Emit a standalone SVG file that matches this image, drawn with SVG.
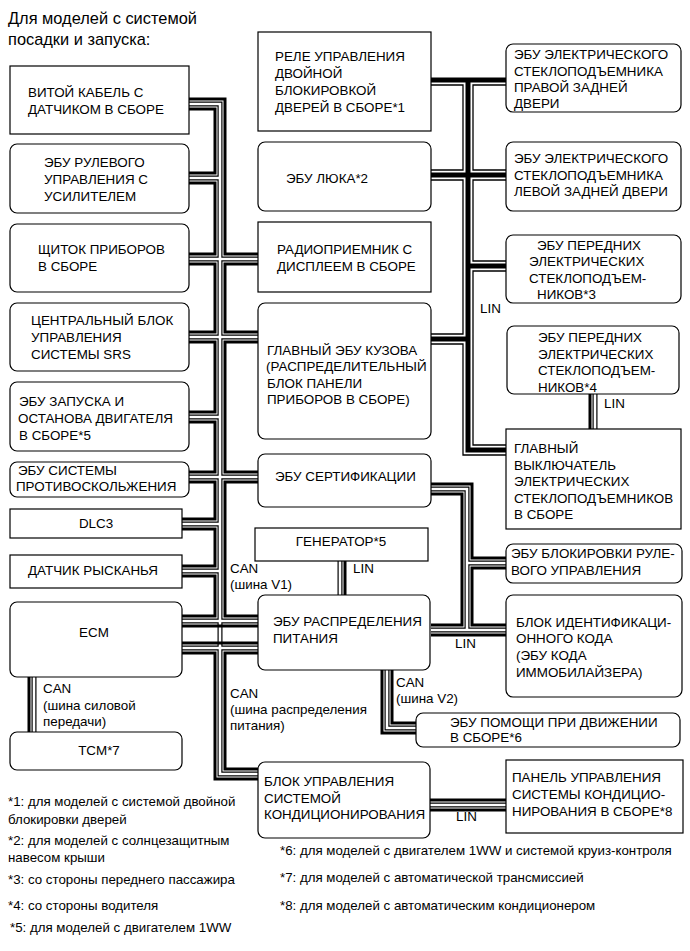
<svg xmlns="http://www.w3.org/2000/svg" xmlns:xlink="http://www.w3.org/1999/xlink" width="690" height="951" viewBox="0 0 690 951">
<style>
text{font-family:"Liberation Sans",Arial,sans-serif;font-size:13.4px;fill:#000}
.t{font-size:16.4px}
.fn{font-size:13.3px}
.bx{fill:#fff;stroke:#000;stroke-width:1.2}
.k{fill:none;stroke:#000;stroke-width:3}
.band{fill:none;stroke:#000;stroke-width:5}
.thin{fill:none;stroke:#000;stroke-width:1.3}
.ho{fill:none;stroke:#000;stroke-width:5}
.hi{fill:none;stroke:#fff;stroke-width:2.6}
</style>
<defs>
<path id="hol" d="M189,104 H220 V774 H258 M189,178 H220 M189,259 H258 M189,337 H258 M189,417 H220 M189,477 H258 M182,524 H220 M182,571 H220 M182,621 H258 M182,648 H258 M34,677 V732 M387,670 V728 H416 M431,489 H467 V630 M431,630 H506 M467,563 H506 M340,561 V595 M595,394 V429 M430,805 H506"/>
</defs>
<rect width="690" height="951" fill="#fff"/>
<text class="t" x="8" y="24">Для моделей с системой</text>
<text class="t" x="8" y="45">посадки и запуска:</text>

<g id="connectors">
<use xlink:href="#hol" class="ho"/>
<use xlink:href="#hol" class="hi"/>
<path class="k" d="M189,99 H225 V254 H258 M189,109 H215 V173 H189 M189,183 H215 V254 H189 M189,264 H215 V332 H189 M258,264 H225 V332 H258 M189,342 H215 V412 H189 M258,342 H225 V472 H258 M189,422 H215 V472 H189 M189,482 H215 V519 H182 M258,482 H225 V616 H258 M182,529 H215 V566 H182 M182,576 H215 V616 H182 M182,626 H258 M182,643 H258 M258,653 H225 V769 H258 M182,653 H215 V779 H258"/>
<path class="k" d="M29,677 V732 M382,670 V733 H416 M392,670 V723 H416"/>
<path class="k" d="M431,484 H472 V558 H506 M506,568 H472 V625 H506 M431,494 H462 V625 H431 M431,635 H506"/>
<path class="k" d="M345,561 V595 M590,394 V429 M430,800 H506 M430,810 H506"/>
<path class="band" d="M431,80 H506 M468,80 V450 H506 M431,175 H506 M468,266 H506 M431,339 H468"/>
<path class="thin" d="M431,85 H463 V170 H431 M431,180 H463 V334 H431 M431,344 H463 V455 H506 M506,85 H473 V170 H506 M506,180 H473 V261 H506 M506,271 H473 V445 H506"/>
<text x="43" y="693">CAN</text>
<text x="43" y="710">(шина силовой</text>
<text x="43" y="726">передачи)</text>
<text x="230" y="573">CAN</text>
<text x="230" y="589">(шина V1)</text>
<text x="353" y="573">LIN</text>
<text x="455" y="648">LIN</text>
<text x="396" y="687">CAN</text>
<text x="396" y="703">(шина V2)</text>
<text x="230" y="698">CAN</text>
<text x="230" y="714">(шина распределения</text>
<text x="230" y="730">питания)</text>
<text x="480" y="313">LIN</text>
<text x="604" y="408">LIN</text>
<text x="456" y="821">LIN</text>
</g>

<g id="n-vitoy"><rect class="bx" x="10" y="66" width="179" height="68"/><text x="28" y="97">ВИТОЙ КАБЕЛЬ С</text><text x="28" y="114">ДАТЧИКОМ В СБОРЕ</text></g>
<g id="n-rul"><rect class="bx" x="10" y="144" width="179" height="69" rx="7"/><text x="44" y="167">ЭБУ РУЛЕВОГО</text><text x="44" y="184">УПРАВЛЕНИЯ С</text><text x="44" y="201">УСИЛИТЕЛЕМ</text></g>
<g id="n-shitok"><rect class="bx" x="10" y="224" width="179" height="68" rx="7"/><text x="38" y="254">ЩИТОК ПРИБОРОВ</text><text x="38" y="271">В СБОРЕ</text></g>
<g id="n-srs"><rect class="bx" x="10" y="303" width="179" height="68" rx="7"/><text x="31" y="325">ЦЕНТРАЛЬНЫЙ БЛОК</text><text x="31" y="342">УПРАВЛЕНИЯ</text><text x="31" y="359">СИСТЕМЫ SRS</text></g>
<g id="n-zapusk"><rect class="bx" x="10" y="382" width="179" height="69" rx="7"/><text x="19" y="406">ЭБУ ЗАПУСКА И</text><text x="18" y="423">ОСТАНОВА ДВИГАТЕЛЯ</text><text x="19" y="440">В СБОРЕ*5</text></g>
<g id="n-protiv"><rect class="bx" x="10" y="462" width="179" height="35" rx="7"/><text x="18" y="475">ЭБУ СИСТЕМЫ</text><text x="16" y="491">ПРОТИВОСКОЛЬЖЕНИЯ</text></g>
<g id="n-dlc3"><rect class="bx" x="10" y="509" width="172" height="29"/><text x="96" y="528" text-anchor="middle">DLC3</text></g>
<g id="n-datchik"><rect class="bx" x="10" y="555" width="172" height="33"/><text x="93" y="575" text-anchor="middle">ДАТЧИК РЫСКАНЬЯ</text></g>
<g id="n-ecm"><rect class="bx" x="10" y="602" width="172" height="75" rx="7"/><text x="94" y="637" text-anchor="middle">ECM</text></g>
<g id="n-tcm"><rect class="bx" x="10" y="732" width="172" height="38" rx="7"/><text x="99" y="755" text-anchor="middle">TCM*7</text></g>

<g id="n-rele"><rect class="bx" x="258" y="32" width="173" height="99"/><text x="275" y="61">РЕЛЕ УПРАВЛЕНИЯ</text><text x="275" y="78">ДВОЙНОЙ</text><text x="275" y="95">БЛОКИРОВКОЙ</text><text x="275" y="112">ДВЕРЕЙ В СБОРЕ*1</text></g>
<g id="n-luk"><rect class="bx" x="258" y="142" width="173" height="69" rx="7"/><text x="286" y="183">ЭБУ ЛЮКА*2</text></g>
<g id="n-radio"><rect class="bx" x="258" y="222" width="173" height="70"/><text x="277" y="254">РАДИОПРИЕМНИК С</text><text x="277" y="271">ДИСПЛЕЕМ В СБОРЕ</text></g>
<g id="n-kuzov"><rect class="bx" x="258" y="303" width="173" height="136" rx="7"/><text x="267" y="355">ГЛАВНЫЙ ЭБУ КУЗОВА</text><text x="266" y="371">(РАСПРЕДЕЛИТЕЛЬНЫЙ</text><text x="267" y="388">БЛОК ПАНЕЛИ</text><text x="267" y="404">ПРИБОРОВ В СБОРЕ)</text></g>
<g id="n-sert"><rect class="bx" x="258" y="454" width="173" height="53" rx="7"/><text x="275" y="481">ЭБУ СЕРТИФИКАЦИИ</text></g>
<g id="n-gen"><rect class="bx" x="255" y="528" width="173" height="33"/><text x="341" y="546" text-anchor="middle">ГЕНЕРАТОР*5</text></g>
<g id="n-raspr"><rect class="bx" x="258" y="595" width="172" height="75" rx="7"/><text x="273" y="626">ЭБУ РАСПРЕДЕЛЕНИЯ</text><text x="273" y="643">ПИТАНИЯ</text></g>
<g id="n-pomosh"><rect class="bx" x="416" y="713" width="264" height="34" rx="7"/><text x="450" y="727">ЭБУ ПОМОЩИ ПРИ ДВИЖЕНИИ</text><text x="450" y="742">В СБОРЕ*6</text></g>
<g id="n-kond"><rect class="bx" x="258" y="762" width="172" height="76" rx="7"/><text x="264" y="786">БЛОК УПРАВЛЕНИЯ</text><text x="264" y="803">СИСТЕМОЙ</text><text x="264" y="819">КОНДИЦИОНИРОВАНИЯ</text></g>

<g id="n-pravoy"><rect class="bx" x="506" y="44" width="175" height="68" rx="7"/><text x="514" y="59">ЭБУ ЭЛЕКТРИЧЕСКОГО</text><text x="514" y="76">СТЕКЛОПОДЪЕМНИКА</text><text x="514" y="92">ПРАВОЙ ЗАДНЕЙ</text><text x="514" y="108">ДВЕРИ</text></g>
<g id="n-levoy"><rect class="bx" x="506" y="142" width="175" height="69" rx="7"/><text x="514" y="163">ЭБУ ЭЛЕКТРИЧЕСКОГО</text><text x="514" y="180">СТЕКЛОПОДЪЕМНИКА</text><text x="514" y="196">ЛЕВОЙ ЗАДНЕЙ ДВЕРИ</text></g>
<g id="n-pered3"><rect class="bx" x="506" y="235" width="175" height="68" rx="7"/><text x="537" y="250">ЭБУ ПЕРЕДНИХ</text><text x="529" y="266">ЭЛЕКТРИЧЕСКИХ</text><text x="529" y="283">СТЕКЛОПОДЪЕМ-</text><text x="537" y="299">НИКОВ*3</text></g>
<g id="n-pered4"><rect class="bx" x="507" y="326" width="172" height="68" rx="7"/><text x="538" y="342">ЭБУ ПЕРЕДНИХ</text><text x="538" y="359">ЭЛЕКТРИЧЕСКИХ</text><text x="538" y="375">СТЕКЛОПОДЪЕМ-</text><text x="538" y="392">НИКОВ*4</text></g>
<g id="n-vykl"><rect class="bx" x="506" y="429" width="175" height="100"/><text x="514" y="453">ГЛАВНЫЙ</text><text x="514" y="470">ВЫКЛЮЧАТЕЛЬ</text><text x="514" y="486">ЭЛЕКТРИЧЕСКИХ</text><text x="514" y="503">СТЕКЛОПОДЪЕМНИКОВ</text><text x="514" y="519">В СБОРЕ</text></g>
<g id="n-blokrul"><rect class="bx" x="506" y="544" width="176" height="39" rx="7"/><text x="511" y="558">ЭБУ БЛОКИРОВКИ РУЛЕ-</text><text x="511" y="575">ВОГО УПРАВЛЕНИЯ</text></g>
<g id="n-ident"><rect class="bx" x="506" y="595" width="176" height="102" rx="7"/><text x="516" y="627">БЛОК ИДЕНТИФИКАЦИ-</text><text x="516" y="643">ОННОГО КОДА</text><text x="516" y="660">(ЭБУ КОДА</text><text x="516" y="677">ИММОБИЛАЙЗЕРА)</text></g>
<g id="n-panel"><rect class="bx" x="506" y="760" width="177" height="73"/><text x="512" y="782">ПАНЕЛЬ УПРАВЛЕНИЯ</text><text x="512" y="799">СИСТЕМЫ КОНДИЦИО-</text><text x="512" y="816">НИРОВАНИЯ В СБОРЕ*8</text></g>

<g id="footnotes">
<text class="fn" x="8" y="806">*1: для моделей с системой двойной</text>
<text class="fn" x="8" y="824">блокировки дверей</text>
<text class="fn" x="8" y="845">*2: для моделей с солнцезащитным</text>
<text class="fn" x="8" y="862">навесом крыши</text>
<text class="fn" x="8" y="884">*3: со стороны переднего пассажира</text>
<text class="fn" x="8" y="910">*4: со стороны водителя</text>
<text class="fn" x="10" y="932">*5: для моделей с двигателем 1WW</text>
<text class="fn" x="280" y="855">*6: для моделей с двигателем 1WW и системой круиз-контроля</text>
<text class="fn" x="280" y="882">*7: для моделей с автоматической трансмиссией</text>
<text class="fn" x="280" y="910">*8: для моделей с автоматическим кондиционером</text>
</g>
</svg>
